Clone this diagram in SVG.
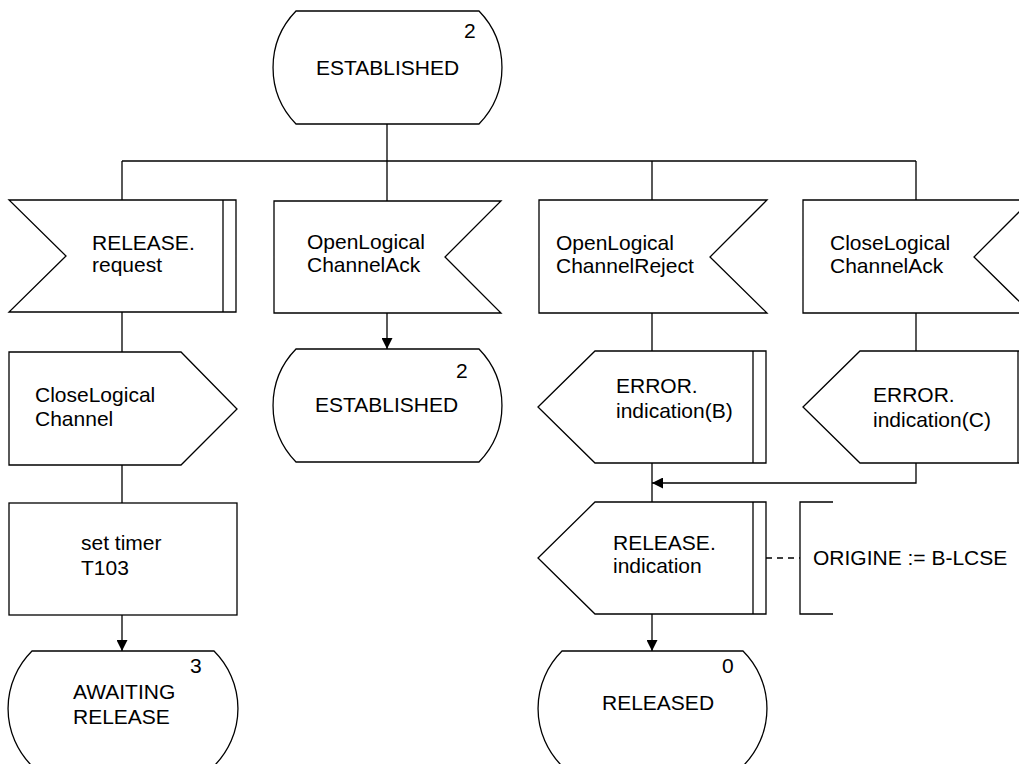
<svg xmlns="http://www.w3.org/2000/svg" width="1019" height="764" viewBox="0 0 1019 764">
<style>
.s{fill:#fff;stroke:#000;stroke-width:1.3}
.l{fill:none;stroke:#000;stroke-width:1.3}
.d{fill:none;stroke:#000;stroke-width:1.3;stroke-dasharray:6 5}
text{font-family:"Liberation Sans",Arial,sans-serif;font-size:21px;fill:#000}
</style>
<defs>
<marker id="arr" markerUnits="userSpaceOnUse" markerWidth="11" markerHeight="11" refX="10" refY="5" orient="auto" viewBox="0 0 10 10">
<path d="M0,0 L10,5 L0,10 z" fill="#000"/>
</marker>
</defs>
<rect width="1019" height="764" fill="#fff"/>
<g id="connectors">
<path class="l" d="M387,124 V161"/>
<path class="l" d="M122,161 H916"/>
<path class="l" d="M122,161 V200 M387,161 V201 M652,161 V200 M916,161 V200"/>
<path class="l" d="M122,312 V352 M122,465 V503"/>
<path class="l" d="M122,615 V651" marker-end="url(#arr)"/>
<path class="l" d="M387,313 V349" marker-end="url(#arr)"/>
<path class="l" d="M652,313 V351 M652,463 V502"/>
<path class="l" d="M916,313 V351"/>
<path class="l" d="M916,463 V483 H652" marker-end="url(#arr)"/>
<path class="l" d="M652,614 V651" marker-end="url(#arr)"/>
<path class="d" d="M766,558 H800"/>
</g>
<g id="state-established-top">
<path class="s" d="M296,11 H479 A81,81 0 0 1 479,124 H296 A81,81 0 0 1 296,11 Z"/>
<text x="464" y="38">2</text>
<text x="316" y="75">ESTABLISHED</text>
</g>
<g id="input-release-request">
<path class="s" d="M9,200 H236 V312 H9 L66,256 Z"/>
<path class="l" d="M223,200 V312"/>
<text x="92" y="250">RELEASE.</text>
<text x="92" y="272">request</text>
</g>
<g id="input-olc-ack">
<path class="s" d="M274,201 H501 L445,257 L501,313 H274 Z"/>
<text x="307" y="249">OpenLogical</text>
<text x="307" y="272">ChannelAck</text>
</g>
<g id="input-olc-reject">
<path class="s" d="M539,200 H767 L710,257 L767,313 H539 Z"/>
<text x="556" y="250">OpenLogical</text>
<text x="556" y="273">ChannelReject</text>
</g>
<g id="input-clc-ack">
<path class="s" d="M803,200 H1031 L974,257 L1031,313 H803 Z"/>
<text x="830" y="250">CloseLogical</text>
<text x="830" y="273">ChannelAck</text>
</g>
<g id="output-close-logical-channel">
<path class="s" d="M9,352 H181 L237,409 L181,465 H9 Z"/>
<text x="35" y="402">CloseLogical</text>
<text x="35" y="426">Channel</text>
</g>
<g id="state-established-2">
<path class="s" d="M296,349 H479 A81,81 0 0 1 479,462 H296 A81,81 0 0 1 296,349 Z"/>
<text x="456" y="378">2</text>
<text x="315" y="412">ESTABLISHED</text>
</g>
<g id="output-error-b">
<path class="s" d="M538,407 L595,351 H766 V463 H595 Z"/>
<path class="l" d="M753,351 V463"/>
<text x="616" y="393">ERROR.</text>
<text x="616" y="418">indication(B)</text>
</g>
<g id="output-error-c">
<path class="s" d="M803,407 L860,351 H1031 V463 H860 Z"/>
<path class="l" d="M1018,351 V463"/>
<text x="873" y="402">ERROR.</text>
<text x="873" y="427">indication(C)</text>
</g>
<g id="task-set-timer">
<rect class="s" x="9" y="503" width="228" height="112"/>
<text x="81" y="550">set timer</text>
<text x="81" y="575">T103</text>
</g>
<g id="output-release-indication">
<path class="s" d="M538,558 L595,502 H766 V614 H595 Z"/>
<path class="l" d="M753,502 V614"/>
<text x="613" y="550">RELEASE.</text>
<text x="613" y="573">indication</text>
</g>
<g id="comment-origine">
<path class="l" d="M833,502 H800 V614 H833"/>
<text x="813" y="565">ORIGINE := B-LCSE</text>
</g>
<g id="state-awaiting-release">
<path class="s" d="M32,651 H214 A81,81 0 0 1 214,766 H32 A81,81 0 0 1 32,651 Z"/>
<text x="190" y="673">3</text>
<text x="73" y="699">AWAITING</text>
<text x="73" y="724">RELEASE</text>
</g>
<g id="state-released">
<path class="s" d="M562,651 H743 A81,81 0 0 1 743,766 H562 A81,81 0 0 1 562,651 Z"/>
<text x="722" y="673">0</text>
<text x="602" y="710">RELEASED</text>
</g>
</svg>
